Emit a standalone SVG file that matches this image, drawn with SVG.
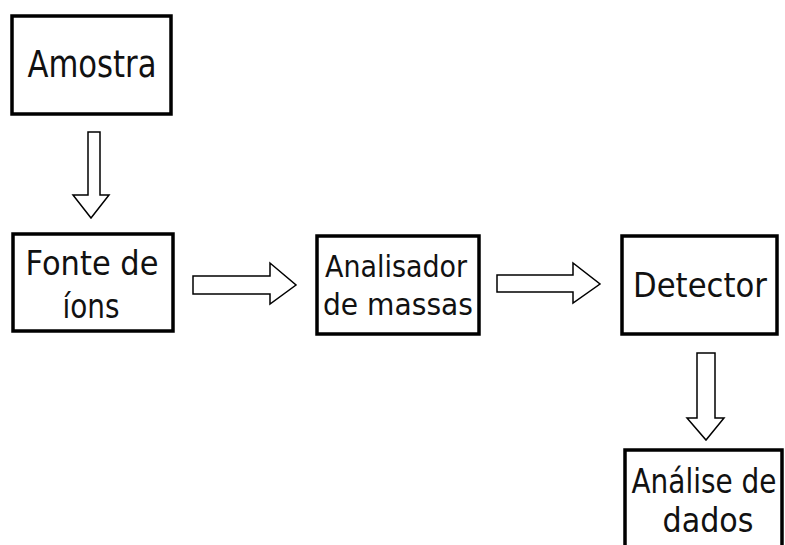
<svg xmlns="http://www.w3.org/2000/svg" width="785" height="545" viewBox="0 0 785 545">
<style>
.box{fill:#fff;stroke:#000;stroke-width:3.5}
.arr{fill:#fff;stroke:#000;stroke-width:1.5;stroke-linejoin:miter}
text{font-family:"DejaVu Sans","Liberation Sans",sans-serif;fill:#111;text-anchor:middle}
</style>
<rect width="785" height="545" fill="#fff"/>
<g id="amostra">
<rect class="box" x="12" y="16" width="159" height="98"/>
<text x="92" y="77" font-size="37" textLength="129" lengthAdjust="spacingAndGlyphs">Amostra</text>
</g>
<g id="fonte">
<rect class="box" x="13" y="234" width="160" height="97"/>
<text x="92" y="275" font-size="34" textLength="133" lengthAdjust="spacingAndGlyphs">Fonte de</text>
<text x="91" y="318" font-size="34" textLength="57" lengthAdjust="spacingAndGlyphs">íons</text>
</g>
<g id="analisador">
<rect class="box" x="317" y="236" width="162" height="98"/>
<text x="396" y="277" font-size="30" textLength="142" lengthAdjust="spacingAndGlyphs">Analisador</text>
<text x="398" y="315" font-size="30" textLength="150" lengthAdjust="spacingAndGlyphs">de massas</text>
</g>
<g id="detector">
<rect class="box" x="622" y="236" width="155" height="98"/>
<text x="700" y="297" font-size="34" textLength="134" lengthAdjust="spacingAndGlyphs">Detector</text>
</g>
<g id="analise">
<rect class="box" x="625" y="450" width="157" height="110"/>
<text x="704" y="493" font-size="34" textLength="145" lengthAdjust="spacingAndGlyphs">Análise de</text>
<text x="708" y="532" font-size="34" textLength="91" lengthAdjust="spacingAndGlyphs">dados</text>
</g>
<g id="connectors">
<polygon class="arr" points="88,132 100,132 100,195 109,195 91,218 73,195 88,195"/>
<polygon class="arr" points="193,276 270,276 270,263 296,285 270,304 270,294 193,294"/>
<polygon class="arr" points="497,275 573,275 573,263 600,284 573,303 573,292 497,292"/>
<polygon class="arr" points="697,353 715,353 715,418 724,418 706,440 687,418 697,418"/>
</g>
</svg>
